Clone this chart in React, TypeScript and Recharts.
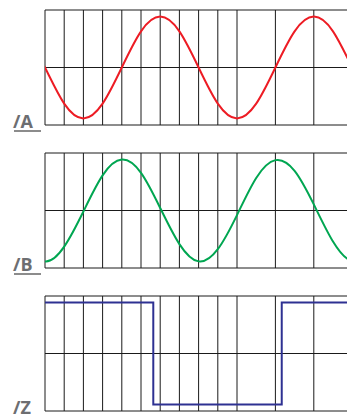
import React from "react";
import { LineChart, Line, XAxis, YAxis, CartesianGrid } from "recharts";

// x positions are grid columns (one column = one vertical division)
const columns = [-1, 0, 1, 2, 3, 4, 5, 6, 7, 8, 9, 10, 11, 12, 13, 14, 15, 16, 17];
const seriesA = [0.71, 0, -0.71, -1, -0.71, 0, 0.71, 1, 0.71, 0, -0.71, -1, -0.71, 0, 0.71, 1, 0.71, 0, -0.71];
const seriesB = [-0.69, -1, -0.71, -0.02, 0.69, 1, 0.74, 0.05, -0.66, -1, -0.76, -0.09, 0.64, 0.99, 0.78, 0.12, -0.61, -0.99, -0.8];
const stepX = [-1, 5.64, 12.33, 17];
const stepZ = [1, -1, 1, 1];
const gridCols = [0, 1, 2, 3, 4, 5, 6, 7, 8, 9, 10, 11, 12, 13, 14, 15, 16];
const yLevels = [-1.13, 0, 1.13];
const labels = ["/A", "/B", "/Z"];

const dataA = columns.map((x, i) => ({ x, v: seriesA[i] }));
const dataB = columns.map((x, i) => ({ x, v: seriesB[i] }));
const dataZ = stepX.map((x, i) => ({ x, v: stepZ[i] }));

const CHART_W = 360;
const CHART_H = 143;
const MARGIN = { top: 10, right: 7.8, bottom: 18, left: 45 };

function Panel({
  data,
  color,
  curve,
  top,
  label,
}: {
  data: { x: number; v: number }[];
  color: string;
  curve: any;
  top: number;
  label: string;
}) {
  const plotBottom = top + MARGIN.top + (CHART_H - MARGIN.top - MARGIN.bottom);
  return (
    <>
      <div style={{ position: "absolute", left: 0, top }}>
        <LineChart width={CHART_W} height={CHART_H} data={data} margin={MARGIN}>
          <CartesianGrid stroke="#1a1a1a" strokeWidth={1} />
          <XAxis
            dataKey="x"
            type="number"
            domain={[0, 16]}
            ticks={gridCols}
            allowDataOverflow
            hide
          />
          <YAxis type="number" domain={[-1.13, 1.13]} ticks={yLevels} allowDataOverflow hide />
          <Line
            dataKey="v"
            type={curve}
            stroke={color}
            strokeWidth={2}
            dot={false}
            activeDot={false}
            isAnimationActive={false}
          />
        </LineChart>
      </div>
      <div
        style={{
          position: "absolute",
          left: 13,
          top: plotBottom - 13.3,
          fontFamily: "'Open Sans', sans-serif",
          fontWeight: 700,
          fontSize: 18,
          lineHeight: "18px",
          color: "#6d6e71",
          whiteSpace: "nowrap",
        }}
      >
        {label}
      </div>
      <div
        style={{
          position: "absolute",
          left: 14,
          top: plotBottom + 5,
          width: 27,
          height: 2,
          background: "#8c8c8c",
        }}
      />
    </>
  );
}

export default function App() {
  return (
    <div
      style={{
        position: "absolute",
        left: 0,
        top: 0,
        width: 347,
        height: 416,
        overflow: "hidden",
        background: "#fff",
      }}
    >
      <Panel data={dataA} color="#ed1c24" curve="natural" top={0} label={labels[0]} />
      <Panel data={dataB} color="#00a651" curve="natural" top={143} label={labels[1]} />
      <Panel data={dataZ} color="#2e3192" curve="stepAfter" top={286} label={labels[2]} />
    </div>
  );
}
